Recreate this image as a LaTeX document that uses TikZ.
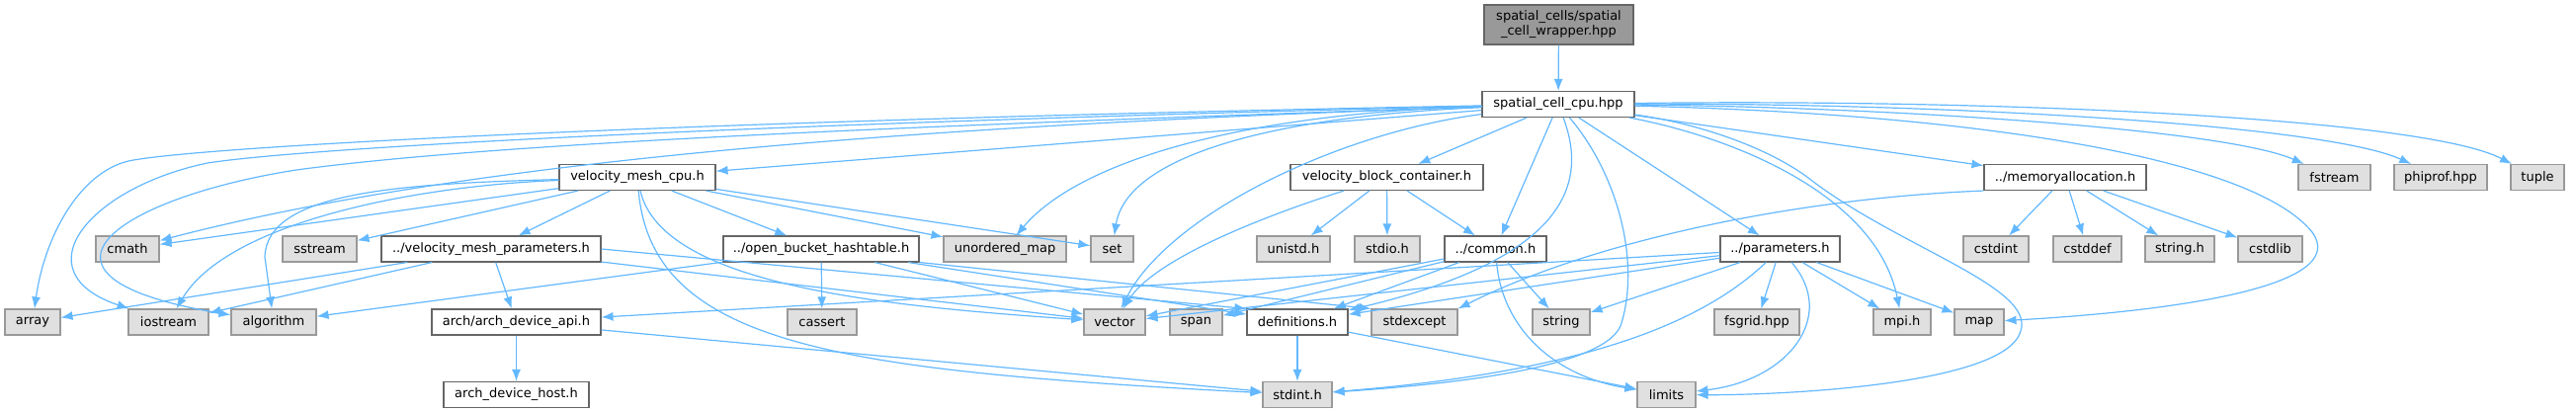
\documentclass[tikz,border=0pt]{standalone}
\usepackage{fontspec}
\setmainfont{DejaVu Sans}
\usetikzlibrary{arrows.meta}
\definecolor{edgeblue}{HTML}{63B8FF}
\definecolor{sysfill}{HTML}{E0E0E0}
\definecolor{grey60}{HTML}{999999}
\definecolor{grey40}{HTML}{666666}

\begin{document}
\begin{tikzpicture}[x=1pt, y=-1pt,
    font=\fontsize{13}{15}\selectfont,
    box/.style={draw, line width=1.1pt, inner sep=0pt, minimum height=26pt, align=center},
    hdr/.style={box, draw=grey40, fill=white},
    sys/.style={box, draw=grey60, fill=sysfill},
    root/.style={box, draw=grey40, fill=grey60, minimum height=40pt},
    dep/.style={edgeblue, line width=1.2pt, -{Latex[length=12pt,width=9pt]}}]
  \useasboundingbox (0,0) rectangle (2607,417);

  % The file itself and what it pulls in
  \node[root, minimum width=151pt] (wrap) at (1577.5,25) {spatial\_cells/spatial\\\_cell\_wrapper.hpp};
  \node[hdr, minimum width=154pt] (cpu) at (1577,105.5) {spatial\_cell\_cpu.hpp};

  % Project headers
  \node[hdr, minimum width=158pt] (vmc) at (645,179.5) {velocity\_mesh\_cpu.h};
  \node[hdr, minimum width=195pt] (vbc) at (1403.5,179.5) {velocity\_block\_container.h};
  \node[hdr, minimum width=164pt] (memal) at (2090,179.5) {../memoryallocation.h};
  \node[hdr, minimum width=222pt] (vmp) at (497,252) {../velocity\_mesh\_parameters.h};
  \node[hdr, minimum width=198pt] (obh) at (831,252) {../open\_bucket\_hashtable.h};
  \node[hdr, minimum width=103pt] (common) at (1513.5,252) {../common.h};
  \node[hdr, minimum width=121pt] (params) at (1801.5,252) {../parameters.h};
  \node[hdr, minimum width=171pt] (archapi) at (522.5,326) {arch/arch\_device\_api.h};
  \node[hdr, minimum width=102pt] (defs) at (1313,326) {definitions.h};
  \node[hdr, minimum width=147pt] (host) at (522.5,399.5) {arch\_device\_host.h};

  % System and library headers
  \foreach \nm/\px/\py/\bw/\txt in {
      fstream/2362.5/179.5/73/fstream, phiprof/2470/179.5/94/phiprof.hpp, tuple/2568/179.5/54/tuple,
      cmath/129/252/64/cmath, sstream/323.5/252/75/sstream, umap/1017/252/124/unordered\_map,
      set/1125.5/252/43/set, unistd/1309/252/74/unistd.h, stdio/1404/252/66/stdio.h,
      cstdint/2020/252/66/cstdint, cstddef/2112.5/252/69/cstddef, stringh/2206/252/70/string.h,
      cstdlib/2297.5/252/65/cstdlib,
      array/33/326/56/array, iostream/170.5/326/81/iostream, algorithm/277/326/86/algorithm,
      cassert/832/326/70/cassert, vector/1128/326/62/vector, span/1210.5/326/53/span,
      stdexcept/1431.5/326/87/stdexcept, string/1580/326/58/string, fsgrid/1778/326/86/fsgrid.hpp,
      mpi/1925/326/58/mpi.h, map/2003/326/50/map,
      stdint/1313/399.5/70/stdint.h, limits/1686.5/399.5/59/limits}
    \node[sys, minimum width=\bw pt] (\nm) at (\px,\py) {\txt};

  % Straight includes
  \foreach \a/\b in {wrap/cpu, cpu/vmc, cpu/vbc, cpu/common, cpu/params, cpu/memal,
      vmc/cmath, vmc/sstream, vmc/vmp, vmc/obh, vmc/umap, vmc/set,
      vmp/array, vmp/iostream, vmp/archapi, vmp/vector,
      obh/algorithm, obh/cassert, obh/vector, obh/defs,
      vbc/unistd, vbc/stdio, vbc/common,
      common/vector, common/span, common/defs, common/string,
      params/archapi, params/vector, params/defs, params/string, params/fsgrid, params/mpi, params/map,
      memal/cstdint, memal/cstddef, memal/stringh, memal/cstdlib,
      archapi/host, archapi/stdint, defs/stdint, defs/limits}
    \draw[dep] (\a) -- (\b);
  \draw[dep] (vmp.east) -- (defs.north west);
  \draw[dep] (obh.south east) -- (stdexcept.north west);
  \draw[dep] (memal.south west) .. controls (1830,200) and (1620,240) .. (stdexcept.north east);

  % Long includes of spatial_cell_cpu.hpp
  \draw[dep] (cpu) .. controls (700,122) and (200,148) .. (130,163)
    .. controls (80,175) and (45,240) .. (array);
  \draw[dep] (cpu) .. controls (800,124) and (320,148) .. (210,165)
    .. controls (90,190) and (20,275) .. (iostream);
  \draw[dep] (cpu) .. controls (900,128) and (500,145) .. (300,172)
    .. controls (120,200) and (0,280) .. (algorithm);
  \draw[dep] (cpu) .. controls (1000,125) and (500,155) .. (cmath);
  \draw[dep] (cpu) .. controls (1250,115) and (1090,165) .. (umap);
  \draw[dep] (cpu) .. controls (1280,118) and (1140,160) .. (set);
  \draw[dep] (cpu) .. controls (1350,135) and (1180,220) .. (vector);
  \draw[dep] (cpu) .. controls (1605,180) and (1595,260) .. (defs);
  \draw[dep] (cpu) .. controls (1640,180) and (1660,270) .. (1640,330)
    .. controls (1620,375) and (1450,390) .. (stdint);
  \draw[dep] (cpu) .. controls (1720,125) and (1790,150) .. (1830,180)
    .. controls (1920,250) and (2060,290) .. (2045,335)
    .. controls (2030,390) and (1800,400) .. (limits);
  \draw[dep] (cpu) .. controls (2000,115) and (2280,160) .. (2340,235)
    .. controls (2380,290) and (2200,315) .. (map);
  \draw[dep] (cpu) .. controls (1760,140) and (1900,200) .. (mpi);
  \draw[dep] (cpu) .. controls (1900,108) and (2250,130) .. (fstream);
  \draw[dep] (cpu) .. controls (1950,104) and (2350,125) .. (phiprof);
  \draw[dep] (cpu) .. controls (2000,100) and (2450,118) .. (tuple);

  % Curved includes further down
  \draw[dep] (vmc) .. controls (420,188) and (230,225) .. (iostream);
  \draw[dep] (vmc) .. controls (400,186) and (270,195) .. (268,260) -- (algorithm);
  \draw[dep] (vmc) .. controls (670,290) and (900,310) .. (vector);
  \draw[dep] (vmc) .. controls (660,350) and (850,375) .. (stdint);
  \draw[dep] (vbc) .. controls (1290,215) and (1170,260) .. (vector);
  \draw[dep] (common) .. controls (1520,330) and (1570,380) .. (limits);
  \draw[dep] (params) .. controls (1730,320) and (1620,375) .. (stdint);
  \draw[dep] (params) .. controls (1860,320) and (1810,385) .. (limits);
\end{tikzpicture}
\end{document}
